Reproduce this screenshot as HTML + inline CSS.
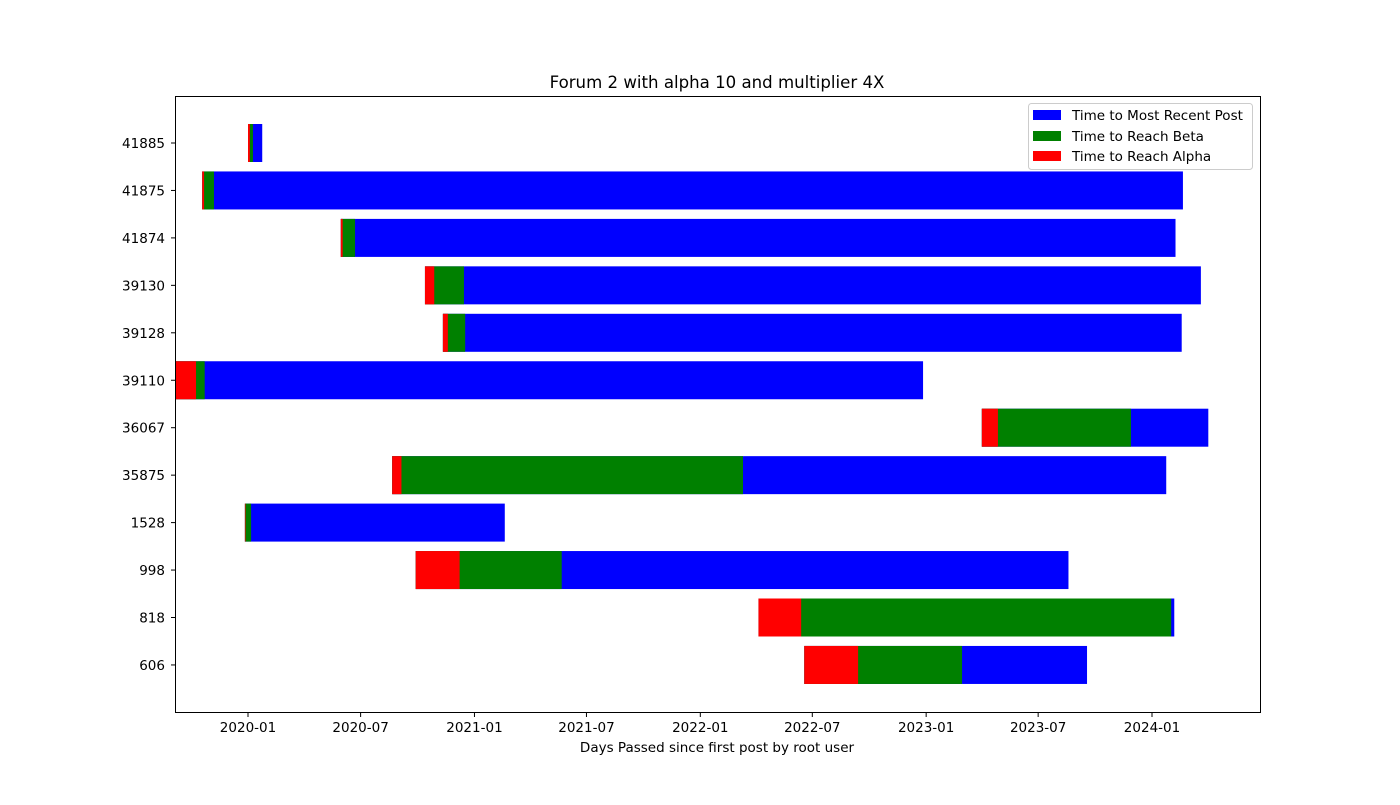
<!DOCTYPE html>
<html><head><meta charset="utf-8"><style>
body{margin:0;background:#fff;}
svg text{font-family:"DejaVu Sans","Liberation Sans",sans-serif;}
</style></head><body>
<svg id="chart" width="1400" height="800" xmlns="http://www.w3.org/2000/svg">
<rect width="1400" height="800" fill="#fff"/>
<text x="717" y="88" font-size="16.6" text-anchor="middle">Forum 2 with alpha 10 and multiplier 4X</text>
<g id="bars"></g>
<g id="axes"></g>
<rect x="175.5" y="96.5" width="1085" height="616" fill="none" stroke="#000" stroke-width="1"/>
<text x="717" y="752" font-size="13.5" text-anchor="middle">Days Passed since first post by root user</text>
<g>
<rect x="1028.5" y="103.5" width="224" height="66" rx="3" fill="#fff" fill-opacity="0.8" stroke="#ccc"/>
<rect x="1033" y="110" width="28" height="10" fill="#0000ff"/>
<text x="1072" y="120" font-size="13.5">Time to Most Recent Post</text>
<rect x="1033" y="131" width="28" height="10" fill="#008000"/>
<text x="1072" y="141" font-size="13.5">Time to Reach Beta</text>
<rect x="1033" y="151" width="28" height="10" fill="#ff0000"/>
<text x="1072" y="161" font-size="13.5">Time to Reach Alpha</text>
</g>
</svg>
<script>
const categories = ["41885","41875","41874","39130","39128","39110","36067","35875","1528","998","818","606"];
const startDays = [0,-74,150,286,315,-118,1186,233,-5,271,825,899];
const alphaDays = [3,3,3,15,8,34,26,15,1,71,69,87];
const betaDays = [8,19,23,63,36,48,241,567,10,236,667,255];
const recentDays = [23,1585,1349,1254,1194,1209,366,1251,420,1055,672,457];
const tickLabels = ["2020-01","2020-07","2021-01","2021-07","2022-01","2022-07","2023-01","2023-07","2024-01"];
const tickDays = [0,182,366,547,731,912,1096,1277,1461];

const X0=248, PX=904/1461;
const xs = d => X0 + d*PX;
const ys = i => 143 + i*47.45;
const BH = 38;
const NS="http://www.w3.org/2000/svg";
const bars=document.getElementById('bars'), axes=document.getElementById('axes');
function mk(tag,attrs,parent){const e=document.createElementNS(NS,tag);for(const k in attrs)e.setAttribute(k,attrs[k]);parent.appendChild(e);return e;}
const clipL=175.5, clipR=1260;
function bar(s,d,y,color,parent,name){
  let a=Math.max(xs(s),clipL), b=Math.min(xs(s+d),clipR);
  const r=mk('rect',{x:a,y:y-BH/2,width:Math.max(b-a,0.5),height:BH,fill:color},parent);
  
  
}
categories.forEach((c,i)=>{
  const y=ys(i);
  bar(startDays[i],recentDays[i],y,'#0000ff',bars,'bar-recent-'+c);
  bar(startDays[i],betaDays[i],y,'#008000',bars,'bar-beta-'+c);
  bar(startDays[i],alphaDays[i],y,'#ff0000',bars,'bar-alpha-'+c);
  mk('line',{x1:175.5,x2:171,y1:y,y2:y,stroke:'#000'},axes);
  const t=mk('text',{x:165,y:y+5,'font-size':13.5,'text-anchor':'end'},axes);
  t.textContent=c;
  
  
});
tickDays.forEach((d,i)=>{
  const x=xs(d);
  mk('line',{x1:x,x2:x,y1:712.5,y2:717,stroke:'#000'},axes);
  const t=mk('text',{x:x,y:732,'font-size':13.5,'text-anchor':'middle'},axes);
  t.textContent=tickLabels[i];
  
  
});
</script>
</body></html>
